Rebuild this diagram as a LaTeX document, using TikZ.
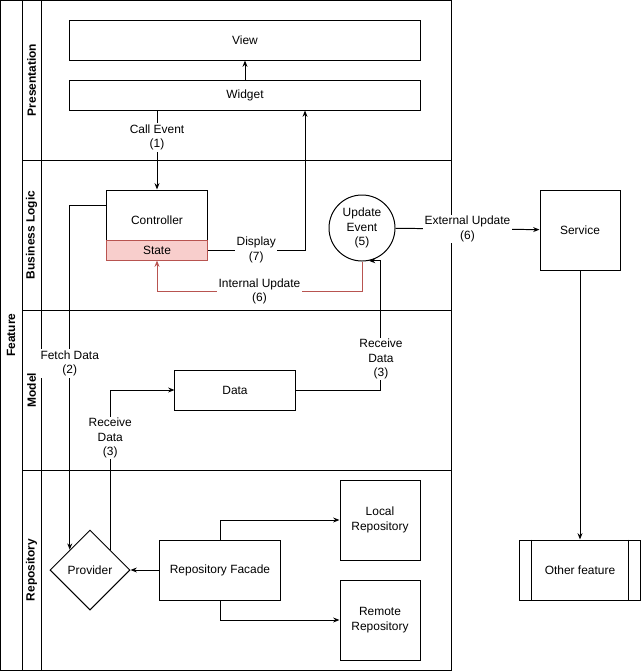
\documentclass[tikz,border=0pt]{standalone}
\usepackage{fontspec}
\setmainfont{Liberation Sans}
\usetikzlibrary{arrows.meta,calc,positioning,shapes.geometric}
\definecolor{stateink}{HTML}{B85450}
\definecolor{statefill}{HTML}{F8CECC}
\begin{document}
\begin{tikzpicture}[x=0.025cm,y=-0.025cm,>={Stealth[length=4.5pt,width=3.5pt]},
  line width=0.7pt,
  font=\fontsize{8.5}{10.2}\selectfont,
  box/.style={draw,fill=white,inner sep=1pt,align=center},
  lbl/.style={fill=white,inner sep=1pt,align=center},
  lane/.style={rotate=90,font=\fontsize{8.5}{10}\selectfont\bfseries}]
\path[use as bounding box] (0,0) rectangle (641,671);
% pool and lanes
\draw (0.5,0.5) rectangle (451,670);
\draw (22,0.5) -- (22,670);
\draw (41,0.5) -- (41,670);
\draw (22,160) -- (451,160);
\draw (22,310) -- (451,310);
\draw (22,470) -- (451,470);
\node[lane] (feat) at (11,335) {Feature};
\node[lane] (lpres) at (31.5,80) {Presentation};
\node[lane] (lbiz) at (31.5,235) {Business Logic};
\node[lane] (lmodel) at (31.5,390) {Model};
\node[lane] (lrepo) at (31.5,570) {Repository};
% boxes
\node[box,minimum width=8.75cm,minimum height=1cm] (view) at (245,40) {View};
\node[box,minimum width=8.75cm,minimum height=0.75cm] (widget) at (245,95) {Widget};
\node[box,minimum width=2.5cm,minimum height=1.5cm] (ctrl) at (157,220) {Controller};
\node[box,draw=stateink,fill=statefill,minimum width=2.5cm,minimum height=0.5cm] (state) at (157,250) {State};
\node[box,circle,minimum size=1.65cm] (upd) at (362,228) {Update\\Event\\(5)};
\node[box,minimum size=2cm] (svc) at (580,230) {Service};
\node[box,minimum width=3cm,minimum height=1.5cm] (other) at (580,570) {Other feature};
\draw ([xshift=0.3cm]other.north west) -- ([xshift=0.3cm]other.south west);
\draw ([xshift=-0.3cm]other.north east) -- ([xshift=-0.3cm]other.south east);
\node[box,minimum width=3cm,minimum height=1cm] (data) at (235,390) {Data};
\node[box,diamond,aspect=1,minimum size=2cm,inner sep=0pt] (prov) at (90,570) {Provider};
\node[box,minimum width=3cm,minimum height=1.5cm] (facade) at (220,570) {Repository Facade};
\node[box,minimum size=2cm] (local) at (380,520) {Local\\Repository};
\node[box,minimum size=2cm] (remote) at (380,620) {Remote\\Repository};
% connectors
\draw[->] (widget) -- (view);
\draw[->] (widget.south -| ctrl.north) -- (ctrl.north) node[lbl,pos=0.34] {Call Event\\(1)};
\draw[->] (state.east) -| ([xshift=1.5cm]widget.south) node[lbl,pos=0.25] {Display\\(7)};
\draw[->,stateink] (upd.south) -- ++(0,30) -| (state.south) node[lbl,text=black,pos=0.25] {Internal Update\\(6)};
\draw[->] (upd) -- (svc) node[lbl,midway] {External Update\\(6)};
\draw[->] (svc) -- (other);
\draw[->] ([yshift=0.375cm]ctrl.west) -| (prov.north west) node[lbl,pos=0.73] {Fetch Data\\(2)};
\draw[->] (prov.north east) |- (data.west) node[lbl,pos=0.35] {Receive\\Data\\(3)};
\draw[->] (data.east) -| ($(upd.-78)+(12,0)$) node[lbl,pos=0.62] {Receive\\Data\\(3)} -- (upd.-78);
\draw[->] (facade) -- (prov);
\draw[->] (facade.north) |- (local);
\draw[->] (facade.south) |- (remote);
\end{tikzpicture}
\end{document}
